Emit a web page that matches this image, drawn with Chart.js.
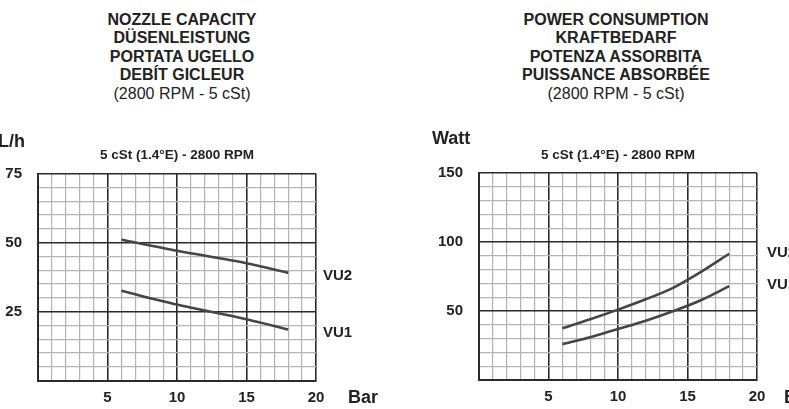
<!DOCTYPE html>
<html>
<head>
<meta charset="utf-8">
<script src="https://cdn.jsdelivr.net/npm/chart.js@4.4.1/dist/chart.umd.min.js"></script>
<style>
  body { margin: 0; background: #fff; width: 789px; height: 409px; overflow: hidden; position: relative; font-family: 'Liberation Sans', Arial, sans-serif; color: #222; }
  .head { position: absolute; top: 10.5px; width: 300px; text-align: center; font-size: 16px; line-height: 18.6px; font-weight: bold; }
  .head .n { font-weight: normal; }
  canvas { position: absolute; top: 120px; }
</style>
</head>
<body>
<div class="head" style="left:32px">NOZZLE CAPACITY<br>DÜSENLEISTUNG<br>PORTATA UGELLO<br>DEBÍT GICLEUR<br><span class="n">(2800 RPM - 5 cSt)</span></div>
<div class="head" style="left:466px">POWER CONSUMPTION<br>KRAFTBEDARF<br>POTENZA ASSORBITA<br>PUISSANCE ABSORBÉE<br><span class="n">(2800 RPM - 5 cSt)</span></div>
<canvas id="chartFlow" width="395" height="289" style="left:0px"></canvas>
<canvas id="chartPower" width="394" height="289" style="left:395px"></canvas>
<script>
// pressure in Bar
const flowPressure = [6, 10, 15, 18]
const flowVU1 = [32.5, 27.5, 22.2, 18.5]
const flowVU2 = [51, 47, 42.5, 39]

const powerPressure = [6, 8, 10, 12, 14, 16, 18]
const powerVU1 = [26, 31, 37, 43, 50, 58, 68]
const powerVU2 = [37.5, 44, 51, 58.5, 67, 78.5, 91.5]

const seriesNames = ['VU1', 'VU2']
const subtitle = '5 cSt (1.4°E) - 2800 RPM'
const xTitle = 'Bar'

const font = "'Liberation Sans', Arial, sans-serif"

function pts(xs, ys) {
    return xs.map((x, i) => ({ x, y: ys[i] }))
}

// draws unit label, subtitle, Bar and VU labels
const extraText = {
    id: 'extraText',
    afterDraw(chart, args, o) {
        const ctx = chart.ctx
        const a = chart.chartArea
        ctx.save()
        ctx.fillStyle = '#222'
        ctx.textBaseline = 'middle'
        ctx.font = 'bold 18px ' + font
        ctx.textAlign = 'left'
        ctx.fillText(o.unit, o.unitX, o.unitY)
        ctx.fillText(xTitle, a.right + o.barDx, a.bottom + 18)
        ctx.font = 'bold 13.5px ' + font
        ctx.textAlign = 'center'
        ctx.fillText(subtitle, (a.left + a.right) / 2, a.top - 18)
        ctx.font = 'bold 15px ' + font
        ctx.textAlign = 'left'
        chart.data.datasets.forEach((ds, i) => {
            const meta = chart.getDatasetMeta(i)
            const last = meta.data[meta.data.length - 1]
            ctx.fillText(ds.label, a.right + o.labelDx, last.y + o.labelDy)
        })
        ctx.restore()
    }
}

function makeChart(id, xs, vu1, vu2, ymax, yStep, yMajor, o) {
    const minor = '#b3b3b3'
    const major = '#2a2a2a'
    new Chart(document.getElementById(id), {
        type: 'line',
        data: {
            datasets: [
                { label: seriesNames[0], data: pts(xs, vu1) },
                { label: seriesNames[1], data: pts(xs, vu2) }
            ]
        },
        options: {
            responsive: false,
            animation: false,
            layout: { padding: { left: 0, right: o.padRight, top: o.padTop, bottom: 0 } },
            elements: {
                line: { borderColor: '#454545', borderWidth: 2.6, tension: 0.3 },
                point: { radius: 0 }
            },
            plugins: { legend: { display: false }, tooltip: { enabled: false }, extraText: o },
            scales: {
                x: {
                    type: 'linear', min: 0, max: 20,
                    afterFit: s => { s.height = o.xHeight },
                    border: { display: true, color: major, width: 2 },
                    grid: {
                        drawTicks: false,
                        color: c => c.tick.value % 5 === 0 ? major : minor,
                        lineWidth: c => c.tick.value % 5 === 0 ? 1.6 : 1.2
                    },
                    ticks: {
                        stepSize: 1, autoSkip: false, maxRotation: 0, padding: 8,
                        color: '#222', font: { family: font, size: 15, weight: 'bold' },
                        callback: v => (v % 5 === 0 && v !== 0) ? String(v) : ''
                    }
                },
                y: {
                    min: 0, max: ymax,
                    afterFit: s => { s.width = o.yWidth },
                    border: { display: true, color: major, width: 2 },
                    grid: {
                        drawTicks: false,
                        color: c => c.tick.value % yMajor === 0 ? major : minor,
                        lineWidth: c => c.tick.value % yMajor === 0 ? 1.6 : 1.2
                    },
                    ticks: {
                        stepSize: yStep, autoSkip: false, padding: 16,
                        color: '#222', font: { family: font, size: 15, weight: 'bold' },
                        callback: v => (v % yMajor === 0 && v !== 0) ? String(v) : ''
                    }
                }
            }
        },
        plugins: [extraText]
    })
}

makeChart('chartFlow', flowPressure, flowVU1, flowVU2, 75, 5, 25, {
    unit: 'L/h', unitX: -2, unitY: 22.5, padRight: 79, padTop: 53.5, xHeight: 28.5, yWidth: 38,
    barDx: 32, labelDx: 7, labelDy: 3
})
makeChart('chartPower', powerPressure, powerVU1, powerVU2, 150, 10, 50, {
    unit: 'Watt', unitX: 37, unitY: 19, padRight: 32, padTop: 53, xHeight: 29, yWidth: 84,
    barDx: 27, labelDx: 10, labelDy: -1
})
</script>
</body>
</html>
